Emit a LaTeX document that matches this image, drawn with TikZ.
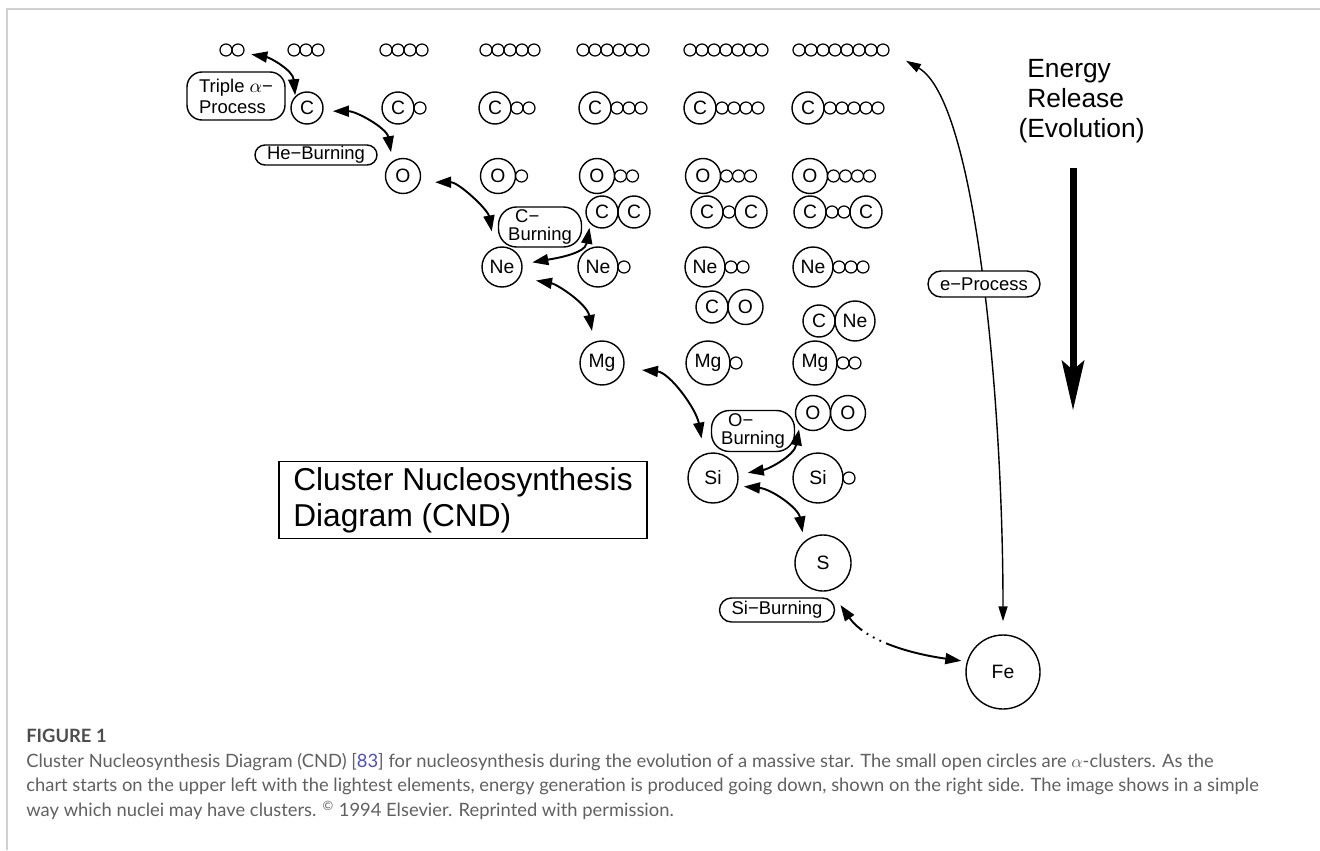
\documentclass[tikz,border=0pt]{standalone}
\usepackage{fontspec}
\setmainfont{Liberation Sans}
\newfontfamily\capfont{Lato}
\usetikzlibrary{arrows.meta}
\definecolor{capgray}{HTML}{606060}
\definecolor{figgray}{HTML}{4D4D4D}
\definecolor{refblue}{HTML}{4B4FC6}
\definecolor{framegray}{HTML}{D0D0D0}
% alpha clusters hanging on the right of a nucleus: name, x, y, radius, count
\newcommand{\atail}[5]{%
  \foreach \i in {1,...,#5}
    \node[alp] (#1-\i) at ({#2+#4+6+(\i-1)*12},#3) {};}

\begin{document}
\begin{tikzpicture}[x=0.2mm,y=0.2mm,
  nuc/.style={circle,draw,line width=0.8pt,inner sep=0pt,font=\fontsize{11}{12}\selectfont},
  rc/.style={nuc,minimum size=6.4mm},
  ro/.style={nuc,minimum size=7mm},
  rne/.style={nuc,minimum size=8mm},
  rmg/.style={nuc,minimum size=8.8mm},
  rsi/.style={nuc,minimum size=10mm},
  rs/.style={nuc,minimum size=11.2mm},
  rfe/.style={nuc,minimum size=14.8mm},
  alp/.style={circle,draw,line width=0.7pt,minimum size=2.4mm,inner sep=0pt},
  proc/.style={draw,line width=0.8pt,fill=white,inner sep=0pt,font=\fontsize{10.5}{12}\selectfont},
  arr/.style={line width=1.1pt,{Triangle[length=3.2mm,width=2.2mm]}-{Triangle[length=3.2mm,width=2.2mm]}},
  thinarr/.style={line width=0.8pt,{Triangle[length=3mm,width=1.8mm]}-{Triangle[length=3mm,width=1.8mm]}}]
\useasboundingbox (0,0) rectangle (1320,-850);
% frame
\draw[framegray,line width=0.4mm] (7,-850) -- (7,-9) -- (1320,-9);
% pure alpha chains
\foreach \n/\x in {2/220,3/288,4/380,5/480,6/577,7/684,8/793}
  \foreach \i in {1,...,\n}
    \node[alp] (a\n-\i) at ({\x+\i*12-6},-50) {};
% C row
\node[rc] (c1) at (307,-108) {C};
\node[rc] (c2) at (398,-108) {C}; \atail{c2}{398}{-108}{16}{1}
\node[rc] (c3) at (495,-108) {C}; \atail{c3}{495}{-108}{16}{2}
\node[rc] (c4) at (595,-108) {C}; \atail{c4}{595}{-108}{16}{3}
\node[rc] (c5) at (700,-108) {C}; \atail{c5}{700}{-108}{16}{4}
\node[rc] (c6) at (808,-108) {C}; \atail{c6}{808}{-108}{16}{5}
% O row
\node[ro] (o1) at (403,-176) {O};
\node[ro] (o2) at (498,-176) {O}; \atail{o2}{498}{-176}{17.5}{1}
\node[ro] (o3) at (597,-176) {O}; \atail{o3}{597}{-176}{17.5}{2}
\node[ro] (o4) at (703,-176) {O}; \atail{o4}{703}{-176}{17.5}{3}
\node[ro] (o5) at (810,-176) {O}; \atail{o5}{810}{-176}{17.5}{4}
% C+C molecules
\node[rc] (p1a) at (602,-212) {C};
\node[rc] (p1b) at (634,-212) {C};
\node[rc] (p2a) at (707,-212) {C};
\node[alp] (p2-1) at (729,-212) {};
\node[rc] (p2b) at (751,-212) {C};
\node[rc] (p3a) at (810,-212) {C};
\node[alp] (p3-1) at (832,-212) {};
\node[alp] (p3-2) at (844,-212) {};
\node[rc] (p3b) at (866,-212) {C};
% Ne row
\node[rne] (ne1) at (502,-267) {Ne};
\node[rne] (ne2) at (598,-267) {Ne}; \atail{ne2}{598}{-267}{20}{1}
\node[rne] (ne3) at (705,-267) {Ne}; \atail{ne3}{705}{-267}{20}{2}
\node[rne] (ne4) at (813,-267) {Ne}; \atail{ne4}{813}{-267}{20}{3}
\node[rc] (p5a) at (712,-307) {C};
\node[ro] (p5b) at (745.5,-307) {O};
\node[rc] (p6a) at (819,-321) {C};
\node[rne] (p6b) at (855,-321) {Ne};
% Mg row
\node[rmg] (mg1) at (602,-363) {Mg};
\node[rmg] (mg2) at (708,-363) {Mg}; \atail{mg2}{708}{-363}{22}{1}
\node[rmg] (mg3) at (815,-363) {Mg}; \atail{mg3}{815}{-363}{22}{2}
\node[ro] (p4a) at (813,-413) {O};
\node[ro] (p4b) at (848,-413) {O};
% Si, S, Fe
\node[rsi] (si1) at (713,-478) {Si};
\node[rsi] (si2) at (818,-478) {Si}; \atail{si2}{818}{-478}{25}{1}
\node[rs] (s1) at (823,-563) {S};
\node[rfe] (fe) at (1003,-672) {Fe};
% burning stages
\node[proc,minimum width=19.6mm,minimum height=9.6mm,rounded corners=3mm,align=left] (tri) at (236,-96) {Triple $\alpha$−\\Process};
\node[proc,minimum width=24.4mm,minimum height=4mm,rounded corners=2mm] (heb) at (316,-155) {He−Burning};
\node[proc,minimum width=16.6mm,minimum height=8mm,rounded corners=3.6mm,align=left,font=\fontsize{10.5}{10}\selectfont] (cb) at (540,-227) {\hspace*{1.4mm}C−\\Burning};
\node[proc,minimum width=16.6mm,minimum height=8.2mm,rounded corners=3.6mm,align=left,font=\fontsize{10.5}{10}\selectfont] (ob) at (753,-431) {\hspace*{1.4mm}O−\\Burning};
\node[proc,minimum width=23mm,minimum height=4.8mm,rounded corners=2.4mm] (sib) at (777,-610) {Si−Burning};
% reactions
\draw[arr,shorten <=1.5mm,shorten >=0.2mm] (a2-2.-27) to[out=-10,in=95] (c1.135);
\draw[arr,shorten <=1.9mm,shorten >=1.8mm] (c1.-11) to[out=0,in=100] (o1.125);
\draw[arr,shorten <=3mm,shorten >=3.3mm] (o1.-20) to[out=0,in=100] (ne1.111);
\draw[arr,shorten <=2mm,shorten >=0.8mm] (ne1.8) to[out=10,in=-100] (p1a.-135);
\draw[arr,shorten <=3.3mm,shorten >=2.2mm] (ne1.-31) to[out=-10,in=100] (mg1.111);
\draw[arr,shorten <=3.6mm,shorten >=3.1mm] (mg1.-14) to[out=-5,in=100] (si1.110);
\draw[arr,shorten <=1.9mm,shorten >=0.8mm] (si1.8) to[out=10,in=-100] (p4a.-137);
\draw[arr,shorten <=1.3mm,shorten >=1.8mm] (si1.-18) to[out=-5,in=100] (s1.131);
\draw[arr,shorten <=3.5mm,shorten >=1.1mm,
  dash pattern=on 3.6mm off 1.1mm on 0.35mm off 1.1mm on 0.35mm off 1.1mm on 0.35mm off 1.1mm on 30mm off 1mm]
  (s1.-75) to[out=-55,in=172] (fe.164);
% e-process
\draw[thinarr,shorten <=2.6mm,shorten >=3.8mm] (fe.north) .. controls +(0,230) and +(87,-50) .. (a8-8.-11);
\node[proc,minimum width=22.4mm,minimum height=5.2mm,rounded corners=2.6mm] (ep) at (984,-284) {e−Process};
% energy release
\node[anchor=north west,inner sep=0pt,align=left,font=\fontsize{15}{17}\selectfont] (enr) at (1027,-59) {Energy\\Release\\\llap{(}Evolution)};
\coordinate (evtop) at (1073,-168);
\coordinate (evbot) at (1073,-410);
\draw[line width=1.4mm,-{Stealth[length=10mm,width=4.6mm,inset=2mm,line width=0pt]}] (evtop) -- (evbot);
% title box
\node[draw,line width=0.8pt,minimum width=73.6mm,minimum height=14.8mm,align=left,font=\fontsize{18}{20.5}\selectfont] (cnd) at (463,-500) {Cluster Nucleosynthesis\\Diagram (CND)};
% caption
\node[anchor=north west,inner sep=0pt,align=left,text=capgray,font=\capfont\fontsize{10.45}{14}\selectfont] (cap) at (26,-729)
 {{\bfseries\color{figgray}FIGURE 1}\\
 Cluster Nucleosynthesis Diagram (CND) [{\color{refblue}83}] for nucleosynthesis during the evolution of a massive star. The small open circles are $\alpha$-clusters. As the\\
 chart starts on the upper left with the lightest elements, energy generation is produced going down, shown on the right side. The image shows in a simple\\
 way which nuclei may have clusters. \textsuperscript{©} 1994 Elsevier. Reprinted with permission.};
\end{tikzpicture}
\end{document}
